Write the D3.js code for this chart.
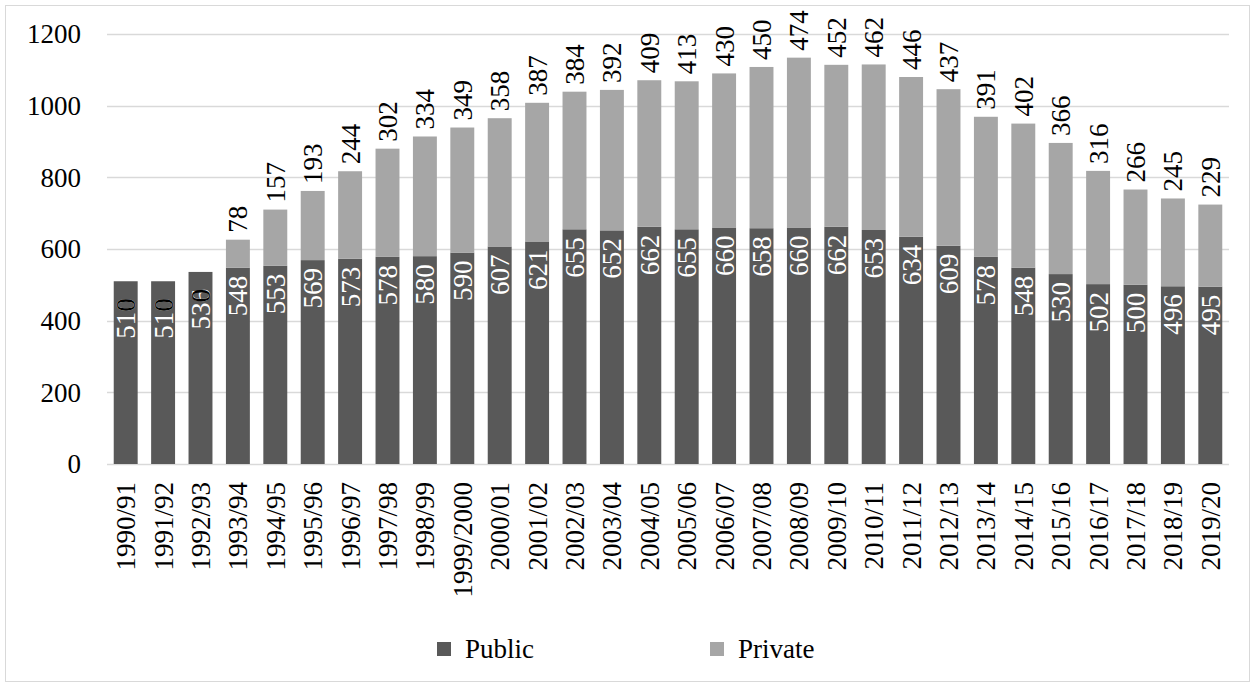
<!DOCTYPE html>
<html>
<head>
<meta charset="utf-8">
<script src="https://cdn.jsdelivr.net/npm/d3@7"></script>
<style>
  body { margin: 0; background: #fff; }
  svg text { font-family: "Liberation Serif", "DejaVu Serif", serif; }
</style>
</head>
<body>
<div id="chart"></div>
<script>
var years = ["1990/91", "1991/92", "1992/93", "1993/94", "1994/95", "1995/96", "1996/97", "1997/98",
  "1998/99", "1999/2000", "2000/01", "2001/02", "2002/03", "2003/04", "2004/05", "2005/06", "2006/07",
  "2007/08", "2008/09", "2009/10", "2010/11", "2011/12", "2012/13", "2013/14", "2014/15", "2015/16",
  "2016/17", "2017/18", "2018/19", "2019/20"];
var publicVals = [510, 510, 536, 548, 553, 569, 573, 578, 580, 590, 607, 621, 655, 652, 662, 655, 660,
  658, 660, 662, 653, 634, 609, 578, 548, 530, 502, 500, 496, 495];
var privateVals = [0, 0, 0, 78, 157, 193, 244, 302, 334, 349, 358, 387, 384, 392, 409, 413, 430,
  450, 474, 452, 462, 446, 437, 391, 402, 366, 316, 266, 245, 229];
var yTicks = [0, 200, 400, 600, 800, 1000, 1200];
var seriesNames = ["Public", "Private"];

var W = 1253, H = 686;
var plotLeft = 107, plotRight = 1229, plotTop = 34, plotBottom = 464;
var fontSize = 27;
var serif = '"Liberation Serif", "DejaVu Serif", serif';

var svg = d3.select('#chart')
  .append('svg')
  .attr('width', W)
  .attr('height', H)
  .attr('font-family', serif);

// outer frame
svg.append('rect')
  .attr('x', 5.5).attr('y', 5.5)
  .attr('width', W - 9).attr('height', H - 10)
  .attr('fill', 'none')
  .attr('stroke', '#d9d9d9');

var x = d3.scaleBand()
  .domain(years)
  .range([plotLeft, plotRight])
  .paddingInner(0.36)
  .paddingOuter(0.18);

var y = d3.scaleLinear()
  .domain([0, 1200])
  .range([plotBottom, plotTop]);

var color = d3.scaleOrdinal()
  .domain(seriesNames)
  .range(['#595959', '#a6a6a6']);

// gridlines
svg.append('g')
  .selectAll('line')
  .data(yTicks)
  .enter()
  .append('line')
  .attr('x1', plotLeft).attr('x2', plotRight)
  .attr('y1', function(d) { return Math.round(y(d)) + 0.5; })
  .attr('y2', function(d) { return Math.round(y(d)) + 0.5; })
  .attr('stroke', '#d9d9d9')
  .attr('stroke-width', 1.3);

// y tick labels
svg.append('g')
  .selectAll('text')
  .data(yTicks)
  .enter()
  .append('text')
  .attr('x', 81)
  .attr('y', function(d) { return y(d); })
  .attr('dy', '0.35em')
  .attr('text-anchor', 'end')
  .attr('font-size', fontSize)
  .attr('fill', '#000')
  .text(function(d) { return d; });

var rows = years.map(function(yr, i) {
  return { year: yr, Public: publicVals[i], Private: privateVals[i] };
});
var stack = d3.stack().keys(seriesNames);
var layers = stack(rows);

var g = svg.append('g');
g.selectAll('g.layer')
  .data(layers)
  .enter()
  .append('g')
  .attr('class', 'layer')
  .attr('fill', function(d) { return color(d.key); })
  .selectAll('rect')
  .data(function(d) { return d; })
  .enter()
  .append('rect')
  .attr('x', function(d) { return x(d.data.year); })
  .attr('width', x.bandwidth())
  .attr('y', function(d) { return y(d[1]); })
  .attr('height', function(d) { return y(d[0]) - y(d[1]); });

// public labels, white, inside top
svg.append('g')
  .selectAll('text')
  .data(rows)
  .enter()
  .append('text')
  .attr('transform', function(d) {
    var cx = x(d.year) + x.bandwidth() / 2;
    var off = d.Private === 0 ? 17 : 8;
    return 'translate(' + cx + ',' + (y(d.Public) + off) + ') rotate(-90)';
  })
  .attr('dy', '0.35em')
  .attr('text-anchor', 'end')
  .attr('font-size', fontSize)
  .attr('fill', '#fff')
  .text(function(d) { return d.Public; });

// private labels, black, above the bar
svg.append('g')
  .selectAll('text')
  .data(rows)
  .enter()
  .append('text')
  .attr('transform', function(d) {
    var cx = x(d.year) + x.bandwidth() / 2;
    var yy = d.Private === 0 ? y(d.Public) + 17 : y(d.Public + d.Private) - 7;
    return 'translate(' + cx + ',' + yy + ') rotate(-90)';
  })
  .attr('dy', '0.35em')
  .attr('text-anchor', function(d) { return d.Private === 0 ? 'end' : 'start'; })
  .attr('font-size', fontSize)
  .attr('fill', '#000')
  .text(function(d) { return d.Private; });

// category labels
svg.append('g')
  .selectAll('text')
  .data(years)
  .enter()
  .append('text')
  .attr('transform', function(d) {
    return 'translate(' + (x(d) + x.bandwidth() / 2) + ',' + 482 + ') rotate(-90)';
  })
  .attr('dy', '0.35em')
  .attr('text-anchor', 'end')
  .attr('font-size', fontSize)
  .attr('fill', '#000')
  .text(function(d) { return d; });

// legend
var legendX = [437, 710];
var legend = svg.append('g')
  .selectAll('g')
  .data(seriesNames)
  .enter()
  .append('g')
  .attr('transform', function(d, i) { return 'translate(' + legendX[i] + ',642)'; });
legend.append('rect')
  .attr('width', 14).attr('height', 14)
  .attr('fill', function(d) { return color(d); });
legend.append('text')
  .attr('x', 28)
  .attr('y', 16)
  .attr('font-size', fontSize)
  .attr('fill', '#000')
  .text(function(d) { return d; });
</script>
</body>
</html>
